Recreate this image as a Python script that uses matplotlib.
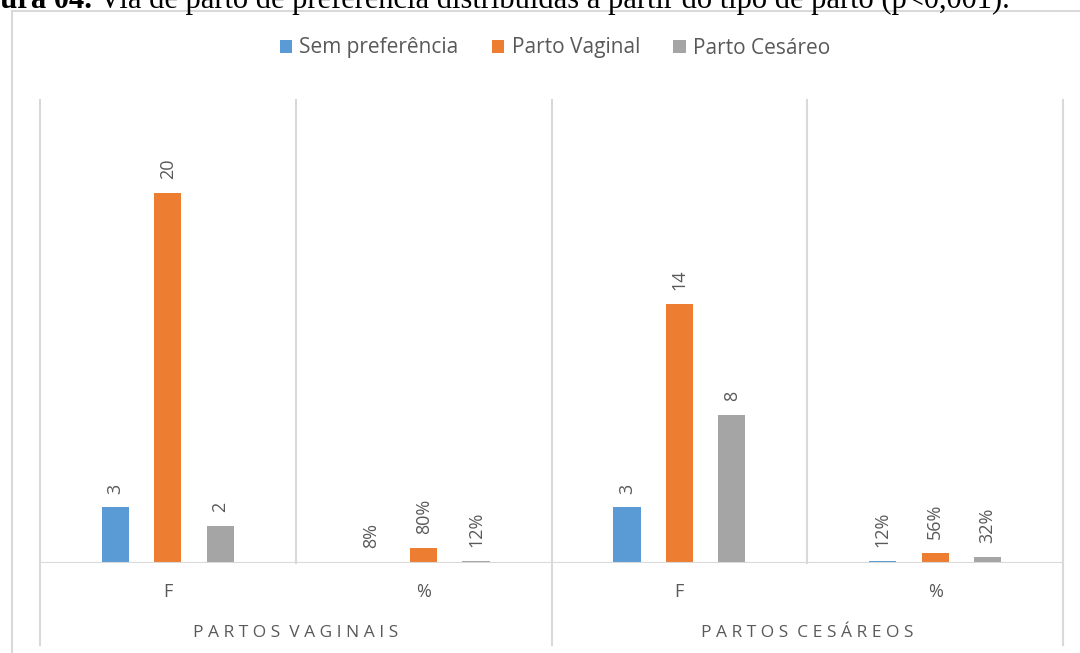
import matplotlib
matplotlib.use("Agg")
import matplotlib.pyplot as plt
from matplotlib.lines import Line2D
from matplotlib.patches import Patch, Rectangle

# ---- data ----
series = ["Sem preferência", "Parto Vaginal", "Parto Cesáreo"]
groups = ["PARTOS VAGINAIS", "PARTOS CESÁREOS"]
subcats = ["F", "%", "F", "%"]
freq_vaginais = [3, 20, 2]
pct_vaginais = [8, 80, 12]
freq_cesareos = [3, 14, 8]
pct_cesareos = [12, 56, 32]
caption_bold = "Figura 04."
caption_rest = " Via de parto de preferência distribuídas a partir do tipo de parto (p<0,001)."

colors = ["#5B9BD5", "#ED7D31", "#A5A5A5"]
grid_c = "#D9D9D9"
text_c = "#595959"
FONT = ["Open Sans", "DejaVu Sans"]

# values per slot (percent plotted as fraction, as in the source chart)
slot_vals = [freq_vaginais, [p / 100 for p in pct_vaginais],
             freq_cesareos, [p / 100 for p in pct_cesareos]]
slot_labels = [[str(v) for v in freq_vaginais], [f"{p}%" for p in pct_vaginais],
               [str(v) for v in freq_cesareos], [f"{p}%" for p in pct_cesareos]]

W, H = 1080, 653
fig = plt.figure(figsize=(W / 100, H / 100), dpi=100)

# outer chart frame
fig.patches.append(Rectangle((12 / W, -0.1), 1.2, (H - 11) / H + 0.1, transform=fig.transFigure,
                             fill=False, edgecolor=grid_c, linewidth=1.5))

# caption (partly outside the canvas, as in the reference)
cap_size = 22
cap_y = 1 - 8 / H
renderer = fig.canvas.get_renderer()
probe = fig.text(0, 0, "Fig", fontsize=cap_size, family="Liberation Serif", fontweight="bold")
fig_w = probe.get_window_extent(renderer).width
probe.remove()
t1 = fig.text(-fig_w / W, cap_y, caption_bold, fontsize=cap_size, family="Liberation Serif",
              fontweight="bold", ha="left", va="baseline", color="black")
bb = t1.get_window_extent(renderer)
fig.text(bb.x1 / W, cap_y, caption_rest, fontsize=cap_size, family="Liberation Serif",
         ha="left", va="baseline", color="black")

L, R, T, B = 40, 1063, 100, 563
ax = fig.add_axes([L / W, (H - B) / H, (R - L) / W, (B - T) / H])
ax.set_xlim(0, 4)
ax.set_ylim(0, 25)
for s in ax.spines.values():
    s.set_visible(False)
ax.set_xticks([])
ax.set_yticks([])

spacing = 0.205
width = 0.106
for i, (vals, labs) in enumerate(zip(slot_vals, slot_labels)):
    center = i + 0.5
    for j, (v, lab) in enumerate(zip(vals, labs)):
        x = center + (j - 1) * spacing
        ax.bar(x, v, width=width, color=colors[j], linewidth=0, zorder=2)
        ax.annotate(lab, (x, v), xytext=(0, 10), textcoords="offset points",
                    rotation=90, ha="center", va="bottom", fontsize=13,
                    color=text_c, family=FONT)

# grid / separators
for xi in range(5):
    ax.plot([xi, xi], [0, 25], color=grid_c, lw=1.5, zorder=1, clip_on=False)
ax.axhline(0, color=grid_c, lw=1.5, zorder=3)

# group separators extending below
for xpx in [L, 552, R]:
    fig.add_artist(Line2D([xpx / W, xpx / W], [(H - B) / H, (H - 645) / H],
                          color=grid_c, lw=1.5))

# sub-category labels
for i, s in enumerate(subcats):
    ax.text(i + 0.5, -1.55, s, ha="center", va="center", fontsize=13,
            color=text_c, family=FONT)

# group labels with letter spacing
for g, gname in enumerate(groups):
    spaced = "  ".join(" ".join(w) for w in gname.split(" "))
    ax.text(2 * g + 1, -3.8, spaced, ha="center", va="center", fontsize=12.5,
            color=text_c, family=FONT)

handles = [Patch(facecolor=c, edgecolor="none") for c in colors]
fig.legend(handles, series, loc="center", bbox_to_anchor=(555 / W, 1 - 48 / H), ncol=3,
           frameon=False, handlelength=0.6, handleheight=0.6, handletextpad=0.35,
           columnspacing=1.6, prop={"family": FONT, "size": 15}, labelcolor=text_c)

fig.savefig("out.png", dpi=100)
